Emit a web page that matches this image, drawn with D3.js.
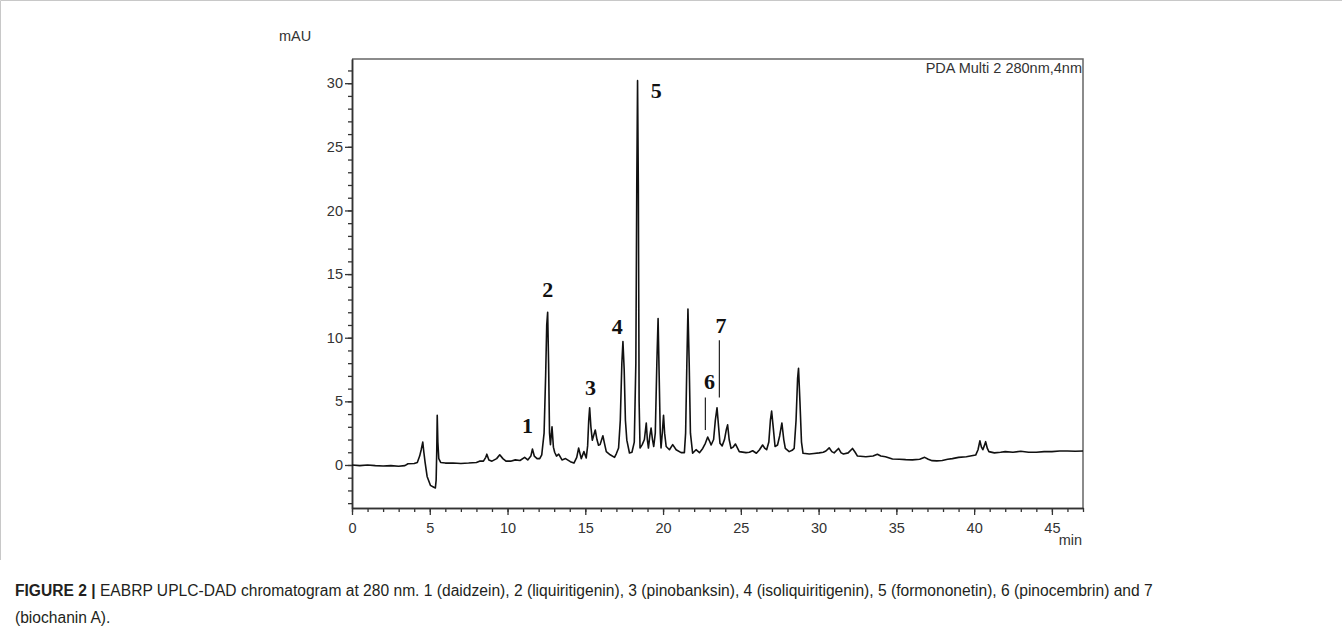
<!DOCTYPE html>
<html>
<head>
<meta charset="utf-8">
<script src="https://cdn.jsdelivr.net/npm/d3@7"></script>
<style>
    body { margin: 0; background: #fff; }
    .tick-label { font-family: 'Liberation Sans', Arial, sans-serif; font-size: 14.5px; fill: #333; }
    .peak-label { font-family: 'Liberation Serif', 'Times New Roman', serif; font-size: 22px; font-weight: bold; fill: #111; }
    .caption { font-family: 'Liberation Sans', Arial, sans-serif; font-size: 15.6px; fill: #231f20; }
</style>
</head>
<body>
<svg id="chart" width="1342" height="635"></svg>
<script>
// chromatogram trace, [retention time (min), absorbance (mAU)]
var traceFront = [
    [0, 0.0], [0.5, -0.05], [1.0, 0.0], [1.5, -0.05], [2.0, -0.08], [2.5, -0.05], [3.0, -0.1],
    [3.4, -0.05], [3.6, 0.1], [4.0, 0.12], [4.2, 0.2], [4.35, 0.7], [4.45, 1.2], [4.55, 1.8],
    [4.62, 1.0], [4.7, 0.2], [4.83, -0.9], [5.04, -1.6], [5.26, -1.75], [5.36, -1.8], [5.41, -1.2],
    [5.45, 1.2], [5.48, 3.9], [5.52, 1.8], [5.58, 0.5], [5.7, 0.2], [6.0, 0.15], [6.5, 0.15],
    [7.0, 0.12], [7.5, 0.15], [8.0, 0.2], [8.2, 0.3], [8.45, 0.3], [8.6, 0.6], [8.67, 0.85],
    [8.8, 0.4], [9.0, 0.3], [9.3, 0.5], [9.5, 0.8], [9.7, 0.5], [9.9, 0.3], [10.2, 0.3],
    [10.5, 0.4], [10.8, 0.35], [11.1, 0.6], [11.3, 0.4], [11.5, 0.7], [11.6, 1.25], [11.72, 0.7],
    [11.9, 0.5], [12.07, 0.5], [12.2, 0.8]
];
var traceMain = [
    [12.35, 2.5], [12.45, 7.0], [12.52, 11.0], [12.58, 12.0], [12.64, 8.0], [12.7, 2.5], [12.76, 1.6],
    [12.86, 3.0], [12.95, 1.4], [13.03, 1.0], [13.15, 0.7], [13.29, 0.85], [13.5, 0.4], [13.73, 0.5],
    [14.04, 0.26], [14.27, 0.15], [14.45, 0.6], [14.57, 1.33], [14.74, 0.5], [14.91, 1.05],
    [15.06, 0.55], [15.15, 1.5], [15.22, 3.5], [15.28, 4.5], [15.36, 3.0], [15.45, 1.95],
    [15.64, 2.75], [15.75, 2.0], [15.85, 1.55], [15.95, 1.6], [16.13, 2.3], [16.25, 1.6],
    [16.35, 1.05], [16.6, 0.8], [16.88, 0.6], [17.0, 0.9], [17.14, 1.33], [17.25, 3.5],
    [17.35, 8.0], [17.42, 9.7], [17.5, 7.5], [17.58, 3.5], [17.67, 1.95], [17.84, 0.94],
    [18.0, 1.0], [18.15, 1.8], [18.25, 8.0], [18.31, 22.0], [18.36, 30.2], [18.41, 22.0],
    [18.46, 5.0], [18.52, 1.33], [18.66, 1.6], [18.8, 2.0], [18.92, 3.3], [18.99, 2.0],
    [19.06, 1.33], [19.15, 2.3], [19.23, 2.9], [19.32, 2.0], [19.4, 1.45], [19.5, 2.5],
    [19.6, 8.0], [19.68, 11.5], [19.75, 7.0], [19.82, 2.5], [19.87, 1.33], [19.95, 2.5],
    [20.03, 3.9], [20.1, 2.5], [20.2, 1.45], [20.41, 1.2], [20.62, 1.6], [20.84, 1.2],
    [21.16, 0.97], [21.37, 0.97], [21.45, 2.5], [21.53, 8.0], [21.6, 12.25], [21.68, 8.0],
    [21.76, 2.5], [21.9, 0.92], [22.12, 1.2], [22.34, 0.97], [22.55, 1.3], [22.72, 1.7],
    [22.87, 2.2], [22.98, 1.9], [23.09, 1.57], [23.25, 2.0], [23.36, 3.5], [23.47, 4.5],
    [23.57, 3.0], [23.66, 1.7], [23.8, 1.5], [23.95, 2.0], [24.07, 2.8], [24.15, 3.15],
    [24.25, 2.0], [24.37, 1.3], [24.5, 1.4], [24.65, 1.65], [24.9, 1.05], [25.33, 0.97],
    [25.55, 1.0], [25.76, 1.12], [26.0, 0.92], [26.2, 1.2], [26.4, 1.57], [26.55, 1.3],
    [26.66, 1.2], [26.8, 1.8], [26.9, 3.5], [26.98, 4.24], [27.08, 3.0], [27.2, 1.45],
    [27.36, 1.57], [27.5, 2.3], [27.64, 3.3], [27.76, 2.0], [27.86, 1.3], [28.11, 1.05],
    [28.3, 1.15], [28.43, 1.3], [28.55, 3.5], [28.65, 6.8], [28.71, 7.6], [28.8, 5.0],
    [28.9, 1.8], [29.0, 0.92]
];
var traceTail = [
    [29.4, 0.86], [29.7, 0.9], [30.04, 0.95], [30.3, 1.0], [30.47, 1.1], [30.68, 1.35],
    [30.85, 1.05], [31.0, 0.95], [31.28, 1.3], [31.45, 0.95], [31.6, 0.86], [31.9, 0.95],
    [32.18, 1.3], [32.35, 1.0], [32.5, 0.7], [33.04, 0.65], [33.5, 0.7], [33.78, 0.84],
    [34.0, 0.7], [34.3, 0.65], [34.75, 0.47], [35.2, 0.45], [35.6, 0.42], [36.03, 0.4],
    [36.5, 0.45], [36.82, 0.6], [37.05, 0.45], [37.3, 0.34], [37.6, 0.32], [37.95, 0.35],
    [38.3, 0.45], [38.6, 0.5], [39.0, 0.6], [39.5, 0.65], [40.1, 0.78], [40.25, 1.2],
    [40.37, 1.9], [40.47, 1.4], [40.56, 1.2], [40.65, 1.5], [40.74, 1.83], [40.85, 1.3],
    [40.95, 1.05], [41.3, 0.95], [41.7, 1.0], [42.0, 1.05], [42.5, 1.0], [43.0, 1.08],
    [43.5, 1.0], [44.0, 1.0], [44.5, 1.05], [45.0, 1.05], [45.5, 1.1], [46.0, 1.1],
    [46.5, 1.08], [47.0, 1.1]
];

// numbered peaks: label text, label position (min, mAU)
var peakNumbers = ['1', '2', '3', '4', '5', '6', '7'];
var peakLabelTime = [11.28, 12.58, 15.34, 17.05, 19.56, 22.98, 23.73];
var peakLabelLevel = [2.5, 13.2, 5.5, 10.3, 28.85, 6.0, 10.4];

// leader lines for peaks 6 and 7: [time, from mAU, to mAU]
var leaderLines = [[22.72, 2.75, 5.3], [23.62, 5.3, 9.8]];

var xMajorTicks = [0, 5, 10, 15, 20, 25, 30, 35, 40, 45];
var yMajorTicks = [0, 5, 10, 15, 20, 25, 30];

var captionLines = [
    'EABRP UPLC-DAD chromatogram at 280 nm. 1 (daidzein), 2 (liquiritigenin), 3 (pinobanksin), 4 (isoliquiritigenin), 5 (formononetin), 6 (pinocembrin) and 7',
    '(biochanin A).'
];

var plot = {l: 352, r: 1083, t: 59, b: 508};

var svg = d3.select('#chart');

var x = d3.scaleLinear().domain([0, 47]).range([plot.l, plot.r]);
var y = d3.scaleLinear().domain([-3.38, 31.9]).range([plot.b, plot.t]);

// outer figure frame (top and left edges)
svg.append('path')
    .attr('d', 'M0.5,560 V0.5 H1342')
    .attr('fill', 'none')
    .attr('stroke', '#c8c8c8')
    .attr('stroke-width', 1);

// plot frame: top and right in grey
svg.append('path')
    .attr('d', 'M' + plot.l + ',' + plot.t + ' H' + plot.r + ' V' + plot.b)
    .attr('fill', 'none')
    .attr('stroke', '#666')
    .attr('stroke-width', 1.5);

drawAxes();
drawTrace();
drawLabels();
drawCaption();

/** Helper functions **/

function drawAxes() {
    var xMinor = d3.range(0, 48, 1);
    var yMinor = d3.range(-3, 32, 1);

    var gx = svg.append('g')
        .attr('transform', 'translate(0,' + plot.b + ')');
    gx.append('g')
        .call(d3.axisBottom(x).tickValues(xMinor).tickSize(4).tickFormat('').tickSizeOuter(0));
    gx.append('g')
        .call(d3.axisBottom(x).tickValues(xMajorTicks).tickSize(7).tickSizeOuter(0).tickPadding(8));

    var gy = svg.append('g')
        .attr('transform', 'translate(' + plot.l + ',0)');
    gy.append('g')
        .call(d3.axisLeft(y).tickValues(yMinor).tickSize(4).tickFormat('').tickSizeOuter(0));
    gy.append('g')
        .call(d3.axisLeft(y).tickValues(yMajorTicks).tickSize(7).tickSizeOuter(0).tickPadding(2));

    svg.selectAll('.domain').attr('stroke', '#333').attr('stroke-width', 1.5);
    svg.selectAll('.tick line').attr('stroke', '#333').attr('stroke-width', 1.3);
    svg.selectAll('.tick text')
        .attr('class', 'tick-label')
        .attr('font-family', null)
        .attr('font-size', null)
        .attr('fill', null);

    svg.append('text')
        .attr('class', 'tick-label')
        .attr('x', 279)
        .attr('y', 41)
        .text('mAU');

    svg.append('text')
        .attr('class', 'tick-label')
        .attr('x', plot.r - 1)
        .attr('y', 545)
        .attr('text-anchor', 'end')
        .text('min');

    svg.append('text')
        .attr('class', 'tick-label')
        .attr('x', plot.r - 1)
        .attr('y', 73)
        .attr('text-anchor', 'end')
        .text('PDA Multi 2 280nm,4nm');
}

function drawTrace() {
    var points = traceFront.concat(traceMain, traceTail);
    var line = d3.line()
        .x(function(d) { return x(d[0]); })
        .y(function(d) { return y(d[1]); });

    svg.append('path')
        .datum(points)
        .attr('d', line)
        .attr('fill', 'none')
        .attr('stroke', '#111')
        .attr('stroke-width', 1.6)
        .attr('stroke-linejoin', 'round');
}

function drawLabels() {
    svg.selectAll('.peak-label')
        .data(peakNumbers)
        .enter().append('text')
        .attr('class', 'peak-label')
        .attr('text-anchor', 'middle')
        .attr('x', function(d, i) { return x(peakLabelTime[i]); })
        .attr('y', function(d, i) { return y(peakLabelLevel[i]); })
        .text(function(d) { return d; });

    svg.selectAll('.leader')
        .data(leaderLines)
        .enter().append('line')
        .attr('class', 'leader')
        .attr('x1', function(d) { return x(d[0]); })
        .attr('x2', function(d) { return x(d[0]); })
        .attr('y1', function(d) { return y(d[1]); })
        .attr('y2', function(d) { return y(d[2]); })
        .attr('stroke', '#222')
        .attr('stroke-width', 1.2);
}

function drawCaption() {
    var first = svg.append('text')
        .attr('class', 'caption')
        .attr('x', 15)
        .attr('y', 596);
    first.append('tspan')
        .attr('font-weight', 'bold')
        .text('FIGURE 2 | ');
    first.append('tspan')
        .text(captionLines[0]);

    svg.append('text')
        .attr('class', 'caption')
        .attr('x', 15)
        .attr('y', 623)
        .text(captionLines[1]);
}
</script>
</body>
</html>
